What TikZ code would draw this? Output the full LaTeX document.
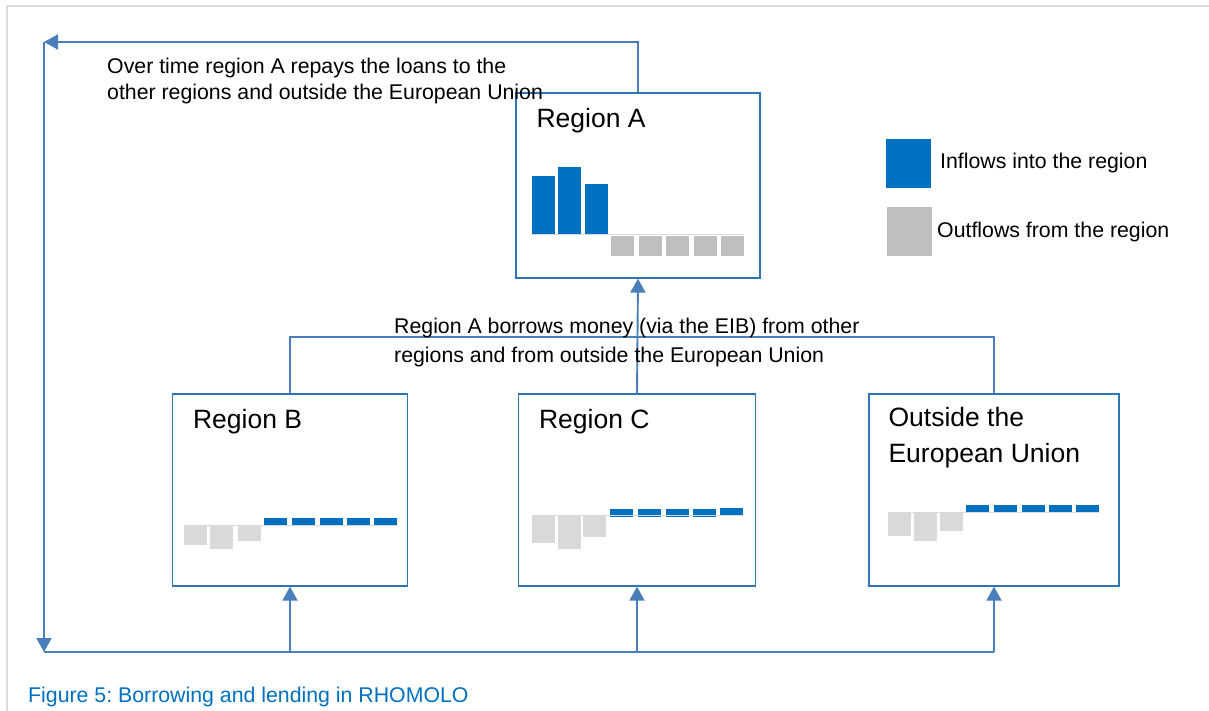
\documentclass[tikz,border=0pt]{standalone}
\usepackage{fontspec}
\setmainfont{Liberation Sans}
\usetikzlibrary{arrows.meta}
\definecolor{inblue}{HTML}{0070C0}
\definecolor{outgray}{HTML}{BFBFBF}
\definecolor{paleout}{HTML}{D9D9D9}
\definecolor{linkblue}{HTML}{4A7EBB}
\definecolor{boxblue}{HTML}{2E75B6}
\definecolor{framegray}{HTML}{DADADA}
\frenchspacing

\begin{document}
\begin{tikzpicture}[x=1pt,y=-1pt,
    regbox/.style={draw=boxblue, line width=1.3pt, rectangle, inner sep=0pt},
    reglabel/.style={anchor=base west, inner sep=0pt, align=left, font=\fontsize{26.5}{36}\selectfont},
    note/.style={anchor=base west, inner sep=0pt, align=left, font=\fontsize{21.3}{27}\selectfont},
    link/.style={draw=linkblue, line width=1.9pt},
    flow/.style={link, -{Triangle[width=15pt,length=14pt]}},
    zeroline/.style={draw=paleout, line width=1pt}]
	\useasboundingbox (0,0) rectangle (1209,711);
	\draw[framegray, line width=2pt] (7,711) -- (7,6) -- (1209,6);

	% regions
	\node[regbox, minimum width=244pt, minimum height=185pt] (A) at (638,185.5) {};
	\node[regbox, minimum width=235pt, minimum height=192pt] (B) at (290,490) {};
	\node[regbox, minimum width=237pt, minimum height=192pt] (C) at (637,490) {};
	\node[regbox, minimum width=250pt, minimum height=192pt] (O) at (994,490) {};
	\node[reglabel] (Alab) at ([shift={(21,35.5)}]A.north west) {Region A};
	\node[reglabel] (Blab) at ([shift={(21,35.5)}]B.north west) {Region B};
	\node[reglabel] (Clab) at ([shift={(21,35.5)}]C.north west) {Region C};
	\node[reglabel] (Olab) at ([shift={(20,69.5)}]O.north west) {Outside the\\European Union};

	% bars of region A
	\fill[inblue] (532,235) rectangle (555,176);
	\fill[inblue] (558,235) rectangle (581,167);
	\fill[inblue] (585,235) rectangle (608,184);
	\foreach \x in {611,639,666,694,721}
		\fill[outgray] (\x,236) rectangle ++(23,20);
	\draw[zeroline] (532,235) -- (743,235);

	% bars of region B
	\fill[paleout] (184,526) rectangle (207,545);
	\fill[paleout] (210,526) rectangle (233,549);
	\fill[paleout] (238,526) rectangle (261,541);
	\foreach \x in {264,292,320,347,374}
		\fill[inblue] (\x,518) rectangle ++(23,7);
	\draw[zeroline] (184,525.5) -- (397,525.5);

	% bars of region C
	\fill[paleout] (532,516) rectangle (555,543);
	\fill[paleout] (558,516) rectangle (581,549);
	\fill[paleout] (583,516) rectangle (606,537);
	\foreach \x in {610,638,666,693}
		\fill[inblue] (\x,509) rectangle ++(23,8);
	\fill[inblue] (720,508) rectangle ++(23,7);
	\draw[zeroline] (532,515) -- (743,515);

	% bars outside the EU
	\fill[paleout] (888,513) rectangle (911,536);
	\fill[paleout] (914,513) rectangle (937,541);
	\fill[paleout] (940,513) rectangle (963,531);
	\foreach \x in {966,994,1022,1049,1076}
		\fill[inblue] (\x,505) rectangle ++(23,7);
	\draw[zeroline] (888,512.5) -- (1099,512.5);

	% legend
	\node[fill=inblue, minimum width=45pt, minimum height=49pt, inner sep=0pt] (inkey) at (908.5,163.5) {};
	\node[fill=outgray, minimum width=45pt, minimum height=49pt, inner sep=0pt] (outkey) at (909.5,231.5) {};
	\node[note] (intext) at (940,169) {Inflows into the region};
	\node[note] (outtext) at (937,237) {Outflows from the region};

	% repayments
	\coordinate (tl) at (44,42);
	\coordinate (bl) at (44,652);
	\draw[flow] (A.north) |- (tl);
	\draw[flow] (tl) -- (bl);
	\draw[link] (bl) -- (bl -| O.south);
	\foreach \n in {B,C,O}
		\draw[flow] (bl -| \n.south) -- (\n.south);
	\node[note, font=\fontsize{21.3}{26}\selectfont] (repay) at (107,100)
		{Over time region A repays the loans to the\\other regions and outside the European Union};

	% borrowing
	\coordinate (mj) at (637,337);
	\draw[link] (B.north) |- (mj) -| (O.north);
	\draw[flow] (C.north) -- (A.south);
	\node[note, font=\fontsize{21.3}{29}\selectfont] (borrow) at (394,362)
		{Region A borrows money (via the EIB) from other\\regions and from outside the European Union};

	\node[note, text=inblue] (caption) at (28,702) {Figure 5: Borrowing and lending in RHOMOLO};
\end{tikzpicture}
\end{document}
